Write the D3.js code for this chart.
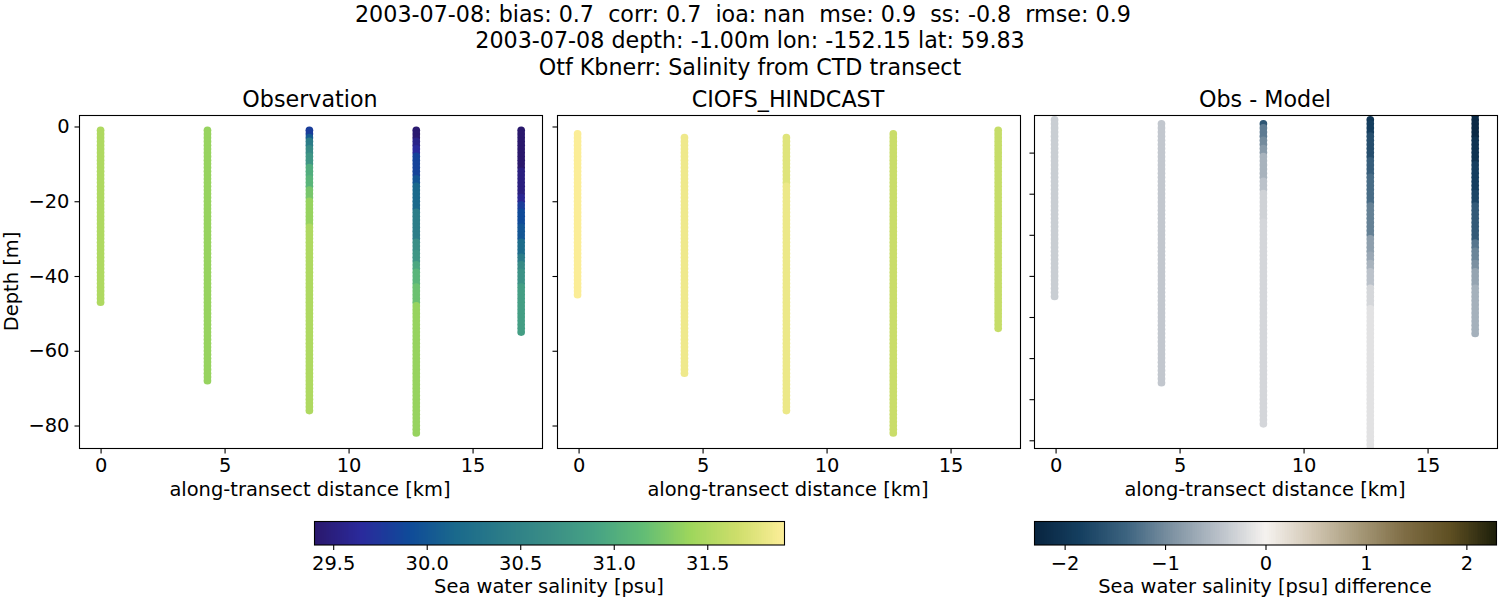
<!DOCTYPE html>
<html>
<head>
<meta charset="utf-8">
<script src="https://cdn.jsdelivr.net/npm/d3@7"></script>
<style>
body { margin: 0; background: #fff; }
text { font-family: "DejaVu Sans"; fill: #000; }
</style>
</head>
<body>
<div id="contenedor"></div>
<script>
// titulos (la primera linea termina con dos espacios)
const tituloLineas = [
  "2003-07-08: bias: 0.7  corr: 0.7  ioa: nan  mse: 0.9  ss: -0.8  rmse: 0.9  ",
  "2003-07-08 depth: -1.00m lon: -152.15 lat: 59.83",
  "Otf Kbnerr: Salinity from CTD transect"
]
const paneles = ["Observation", "CIOFS_HINDCAST", "Obs - Model"]

// distancia de cada estacion [km]
const distObs = [0, 4.31, 8.42, 12.73, 16.96]
const distModelo = [-0.04, 4.27, 8.38, 12.69, 16.92]

// profundidad inicial de cada estacion [m]
const topeObs = [1, 1, 1, 1, 1]
const topeModelo = [2, 3, 3, 2, 1]

// cada perfil: [profundidad hasta la que llega la banda, valor]
const salObs = [
  [[47, 31.5]],
  [[68, 31.38]],
  [[2, 29.8], [3, 30.05], [5.5, 30.4], [7.7, 30.6], [10, 30.75], [13, 31.0], [16, 31.08], [19, 31.25], [26, 31.38], [76, 31.5]],
  [[3, 29.42], [5, 29.55], [7, 29.65], [13.5, 29.85], [15, 30.0], [22.4, 30.15], [30, 30.42], [33, 30.65], [36, 30.75], [38.5, 30.95], [42, 31.08], [47, 31.2], [82, 31.38]],
  [[11.7, 29.4], [18, 29.5], [20, 29.6], [22.4, 29.8], [26, 29.9], [30.5, 30.0], [34, 30.2], [36.7, 30.4], [38.5, 30.6], [42, 30.7], [55, 30.85]]
]
const salModelo = [
  [[45, 31.9]],
  [[66, 31.84]],
  [[15, 31.75], [76, 31.82]],
  [[82, 31.64]],
  [[54, 31.62]]
]
const salDif = [
  [[45, -0.34]],
  [[66, -0.4]],
  [[3.4, -1.55], [6.3, -1.15], [8.2, -1.0], [10, -0.85], [16, -0.6], [19, -0.45], [26, -0.3], [76, -0.26]],
  [[2.6, -2.0], [5.6, -1.85], [11.5, -1.65], [15.5, -1.45], [22, -1.3], [30, -1.1], [34, -0.8], [36, -0.72], [38, -0.6], [42, -0.45], [47, -0.25], [82, -0.15]],
  [[6.7, -2.2], [12.3, -2.05], [19.6, -1.85], [22, -1.75], [31, -1.5], [33.7, -1.2], [36, -1.05], [38, -0.95], [42, -0.75], [54, -0.62]]
]

// ticks
const ticksX = [0, 5, 10, 15]
const ticksY = [0, -20, -40, -60, -80]
const ticksYDif = [-10, -20, -30, -40, -50, -60, -70, -80]
const ticksSal = [29.5, 30, 30.5, 31, 31.5]
const ticksDif = [-2, -1, 0, 1, 2]

// mapas de color (haline y diff de cmocean)
const paradasHaline = ["#2a186c", "#2a2a9c", "#0f4a99", "#1a698c", "#2b7c88", "#3a8e86", "#47a384", "#62bd75", "#9ed65c", "#cede6b", "#fdee99"]
const paradasDiff = ["#08243f", "#153f60", "#3d6480", "#7f93a3", "#bac1c9", "#f5f2ef", "#d3c8b5", "#a79a7a", "#7f6d45", "#5e4f22", "#1c1e0a"]

const escalaSal = d3.scaleLinear().domain(d3.range(11).map(i => 29.4 + i * 0.2513)).range(paradasHaline)
const escalaDif = d3.scaleLinear().domain(d3.range(11).map(i => -2.3 + i * 0.46)).range(paradasDiff)

const ancho = 1500, alto = 600
const svg = d3.select("#contenedor").append("svg")
  .attr("width", ancho).attr("height", alto)
  .style("display", "block")

// titulo general
svg.selectAll("text.sup")
  .data(tituloLineas)
  .enter().append("text")
  .attr("class", "sup")
  .attr("x", 750)
  .attr("y", (d, i) => 22 + i * 26.3)
  .attr("text-anchor", "middle")
  .attr("font-size", 22.22)
  .style("white-space", "pre")
  .text(d => d)

function puntos(perfiles, topes, dist) {
  const salida = []
  perfiles.forEach((bandas, e) => {
    const fondo = bandas[bandas.length - 1][0]
    d3.range(topes[e], fondo + 1).forEach(p => {
      const banda = bandas.find(b => b[0] >= p)
      salida.push({ km: dist[e], prof: -p, v: banda[1] })
    })
  })
  return salida
}

const configs = [
  { x0: 79.5, datos: puntos(salObs, topeObs, distObs), color: escalaSal, dom: [2.94, -86.15], ticks: ticksY, etiquetas: true },
  { x0: 557.5, datos: puntos(salModelo, topeModelo, distModelo), color: escalaSal, dom: [2.94, -86.15], ticks: ticksY, etiquetas: false },
  { x0: 1034.5, datos: puntos(salDif, topeModelo, distModelo), color: escalaDif, dom: [-0.97, -82], ticks: ticksYDif, etiquetas: false }
]

const arriba = 115.5, abajo = 448.5, anchoPanel = 463

configs.forEach((c, i) => {
  const g = svg.append("g").attr("transform", `translate(${c.x0},0)`)
  const escalaX = d3.scaleLinear().domain([-0.85, 17.82]).range([0, anchoPanel])
  const escalaY = d3.scaleLinear().domain(c.dom).range([arriba, abajo])

  svg.append("clipPath").attr("id", "clip" + i)
    .append("rect").attr("x", 0).attr("y", arriba).attr("width", anchoPanel).attr("height", abajo - arriba)

  g.append("g").attr("clip-path", `url(#clip${i})`)
    .selectAll("circle")
    .data(c.datos)
    .enter().append("circle")
    .attr("cx", d => escalaX(d.km))
    .attr("cy", d => escalaY(d.prof))
    .attr("r", 3.85)
    .attr("fill", d => c.color(d.v))

  const ejeX = d3.axisBottom(escalaX).tickValues(ticksX).tickSizeOuter(0).tickSize(5).tickPadding(5)
  g.append("g").attr("class", "eje").attr("transform", `translate(0,${abajo})`).call(ejeX)

  const ejeY = d3.axisLeft(escalaY).tickValues(c.ticks).tickSizeOuter(0).tickSize(5).tickPadding(5)
  if (!c.etiquetas) ejeY.tickFormat("")
  g.append("g").attr("class", "eje").call(ejeY)

  g.append("rect").attr("x", 0).attr("y", arriba).attr("width", anchoPanel).attr("height", abajo - arriba)
    .attr("fill", "none").attr("stroke", "#000").attr("stroke-width", 1.1)

  g.append("text").attr("x", anchoPanel / 2 - 1).attr("y", 107)
    .attr("text-anchor", "middle").attr("font-size", 22.22).text(paneles[i])

  g.append("text").attr("x", anchoPanel / 2 - 1).attr("y", 496)
    .attr("text-anchor", "middle").attr("font-size", 19.44).text("along-transect distance [km]")
})

// etiqueta y
svg.append("text")
  .attr("transform", "translate(18,281.5) rotate(-90)")
  .attr("text-anchor", "middle").attr("font-size", 19.44).text("Depth [m]")

function barra(x0, x1, dominio, color, ticks, formato, etiqueta) {
  const y0 = 521.5, y1 = 545
  const g = svg.append("g")
  const escala = d3.scaleLinear().domain(dominio).range([x0, x1])
  const niveles = d3.range(256).map(i => dominio[0] + (dominio[1] - dominio[0]) * i / 256)
  const paso = (dominio[1] - dominio[0]) / 256
  g.selectAll("rect").data(niveles).enter().append("rect")
    .attr("x", d => escala(d))
    .attr("y", y0)
    .attr("width", d => Math.min(escala(d + paso) - escala(d) + 1, x1 - escala(d)))
    .attr("height", y1 - y0)
    .attr("fill", d => color(d + paso / 2))
    .attr("shape-rendering", "crispEdges")
  g.append("rect").attr("x", x0).attr("y", y0).attr("width", x1 - x0).attr("height", y1 - y0)
    .attr("fill", "none").attr("stroke", "#000").attr("stroke-width", 1.1)
  const eje = d3.axisBottom(escala).tickValues(ticks).tickFormat(formato).tickSizeOuter(0).tickSize(5).tickPadding(6.5)
  g.append("g").attr("class", "eje").attr("transform", `translate(0,${y1})`).call(eje)
  g.append("text").attr("x", (x0 + x1) / 2 - 0.5).attr("y", 593)
    .attr("text-anchor", "middle").attr("font-size", 19.44).text(etiqueta)
}

barra(314.5, 784.5, [29.4, 31.913], escalaSal, ticksSal, d3.format(".1f"), "Sea water salinity [psu]")
barra(1034.5, 1496.5, [-2.3, 2.3], escalaDif, ticksDif, d3.format("d"), "Sea water salinity [psu] difference")

// estilo de los ejes como matplotlib
svg.selectAll(".eje .domain").remove()
svg.selectAll(".eje line").attr("stroke", "#000").attr("stroke-width", 1.1)
svg.selectAll(".eje text").attr("font-size", 19.44).attr("font-family", "DejaVu Sans").attr("fill", "#000")
</script>
</body>
</html>
